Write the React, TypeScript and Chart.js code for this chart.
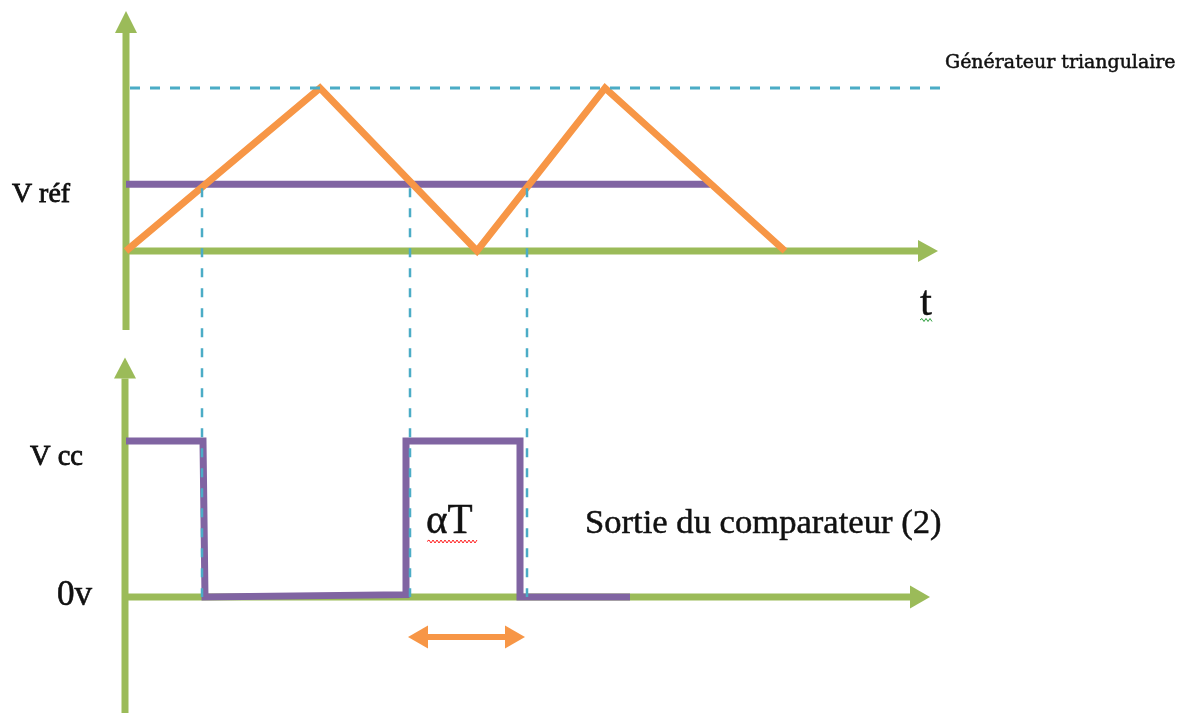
import React, { useEffect, useRef } from "react";
import { Chart, registerables } from "chart.js";

Chart.register(...registerables);

// ---- Data (time in arbitrary units t, top panel voltage normalised to triangle peak = 1,
//      bottom panel output normalised to Vcc = 1) ----
const triangleT = [0, 19.4, 35.1, 47.9, 65.9];
const triangleV = [0, 1, 0, 1, 0];

const vrefLevel = 0.41;
const vrefT = [0, 58.4];

const peakLevel = 1;
const peakLineT = [0.4, 81.4];

const crossingT = [7.6, 28.4, 40.1];

const squareT = [0, 7.7, 7.9, 28.0, 28.0, 39.4, 39.4, 50.4];
const squareV = [1, 1, 0, 0.015, 1, 1, 0, 0];

// axes extents (arrow heads are added beyond the last point)
const topAxisVT = [0, 0];
const topAxisVV = [-0.485, 1.337];
const topAxisHT = [0, 79.2];
const topAxisHV = [0, 0];
const botAxisVT = [-0.1, -0.1];
const botAxisVV = [-0.76, 1.4];
const botAxisHT = [0, 78.4];
const botAxisHV = [0, 0];

// duty-cycle double arrow (alpha T)
const dutyT = [30.2, 37.9];
const dutyV = [-0.256, -0.256];

// scale ranges
const tRange = [-12.6, 105.8];
const topRange = [-2.8344, 1.5399];
const botRange = [-0.7436, 3.8269];

const GREEN = "#9BBB59";
const ORANGE = "#F79646";
const PURPLE = "#8064A2";
const CYAN = "#4BACC6";

const labels = [
  { text: "Générateur triangulaire", x: 946, y: 68, w: 229, font: "'DejaVu Serif'", stroke: 0.5 },
  { text: "V réf", x: 12, y: 202, w: 58, font: "'Liberation Serif'", stroke: 0.8 },
  { text: "t", x: 920, y: 315, w: 12, font: "'Liberation Serif'", stroke: 0.4 },
  { text: "V cc", x: 30, y: 465, w: 52, font: "'Liberation Serif'", stroke: 0.8 },
  { text: "0v", x: 58, y: 605, w: 34, font: "'Liberation Serif'", stroke: 0.6 },
  { text: "αT", x: 427, y: 533, w: 45, font: "'Liberation Serif'", stroke: 0.5 },
  { text: "Sortie du comparateur (2)", x: 587, y: 533, w: 353, font: "'Liberation Serif'", stroke: 0.5 },
];

const squiggles = [
  { x0: 427, x1: 478, y: 541.5, color: "#FF2020" },
  { x0: 920, x1: 932, y: 320, color: "#2E9E3E" },
];

const pts = (xs: number[], ys: number[]) => xs.map((x, i) => ({ x, y: ys[i] }));

export default function App() {
  const ref = useRef<HTMLCanvasElement>(null);

  useEffect(() => {
    const canvas = ref.current;
    if (!canvas) return;

    const line = (
      label: string,
      data: { x: number; y: number }[],
      color: string,
      width: number,
      yAxisID: string,
      order: number,
      extra: any = {}
    ) => ({
      type: "scatter" as const,
      label,
      data,
      showLine: true,
      borderColor: color,
      backgroundColor: color,
      borderWidth: width,
      pointRadius: 0,
      pointHoverRadius: 0,
      tension: 0,
      fill: false,
      yAxisID,
      order,
      borderCapStyle: "butt",
      borderJoinStyle: "miter",
      ...extra,
    });

    const arrowPlugin = {
      id: "arrowHeads",
      afterDatasetsDraw(chart: any) {
        const ctx = chart.ctx;
        chart.data.datasets.forEach((ds: any, i: number) => {
          if (!ds.arrow) return;
          const meta = chart.getDatasetMeta(i);
          const p = meta.data;
          const n = p.length;
          const { L, W, ends } = ds.arrow;
          const head = (a: any, b: any) => {
            const dx = b.x - a.x;
            const dy = b.y - a.y;
            const len = Math.hypot(dx, dy) || 1;
            const ux = dx / len;
            const uy = dy / len;
            ctx.save();
            ctx.fillStyle = ds.borderColor;
            ctx.beginPath();
            ctx.moveTo(b.x + ux * L, b.y + uy * L);
            ctx.lineTo(b.x - uy * W, b.y + ux * W);
            ctx.lineTo(b.x + uy * W, b.y - ux * W);
            ctx.closePath();
            ctx.fill();
            ctx.restore();
          };
          if (ends.includes("end")) head(p[n - 2], p[n - 1]);
          if (ends.includes("start")) head(p[1], p[0]);
        });

        // dashed projections from the Vref crossings down to the 0v axis
        const xs = chart.scales.x;
        const ys = chart.scales.y;
        const y2 = chart.scales.y2;
        ctx.save();
        ctx.strokeStyle = CYAN;
        ctx.lineWidth = 2.5;
        ctx.setLineDash([9, 11]);
        crossingT.forEach((t) => {
          const x = xs.getPixelForValue(t);
          ctx.beginPath();
          ctx.moveTo(x, ys.getPixelForValue(vrefLevel) + 4);
          ctx.lineTo(x, y2.getPixelForValue(0));
          ctx.stroke();
        });
        ctx.restore();
      },
      afterDraw(chart: any) {
        const ctx = chart.ctx;
        ctx.save();
        ctx.fillStyle = "#111";
        ctx.strokeStyle = "#111";
        ctx.textAlign = "left";
        ctx.textBaseline = "alphabetic";
        labels.forEach((l) => {
          ctx.font = `100px ${l.font}`;
          const m = ctx.measureText(l.text);
          const ink = m.actualBoundingBoxLeft + m.actualBoundingBoxRight;
          const size = (100 * l.w) / ink;
          ctx.font = `${size}px ${l.font}`;
          const m2 = ctx.measureText(l.text);
          const x = l.x + m2.actualBoundingBoxLeft;
          ctx.fillText(l.text, x, l.y);
          ctx.lineWidth = l.stroke;
          ctx.strokeText(l.text, x, l.y);
        });
        squiggles.forEach((s) => {
          ctx.strokeStyle = s.color;
          ctx.lineWidth = 1;
          ctx.beginPath();
          let up = true;
          ctx.moveTo(s.x0, s.y);
          for (let x = s.x0 + 2; x <= s.x1; x += 2) {
            ctx.lineTo(x, s.y + (up ? -1.5 : 1.5));
            up = !up;
          }
          ctx.stroke();
        });
        ctx.restore();
      },
    };

    const chart = new Chart(canvas, {
      type: "scatter",
      data: {
        datasets: [
          line("Crête", pts(peakLineT, [peakLevel, peakLevel]), CYAN, 3, "y", 0, {
            borderDash: [10, 10],
          }),
          line("Triangle", pts(triangleT, triangleV), ORANGE, 7, "y", 1),
          line("Vref", pts(vrefT, [vrefLevel, vrefLevel]), PURPLE, 7, "y", 2),
          line("Sortie", pts(squareT, squareV), PURPLE, 7, "y2", 2),
          line("αT", pts(dutyT, dutyV), ORANGE, 6, "y2", 1, {
            arrow: { L: 20, W: 11.5, ends: ["start", "end"] },
          }),
          line("axe1", pts(topAxisVT, topAxisVV), GREEN, 7, "y", 3, {
            arrow: { L: 22, W: 11, ends: ["end"] },
          }),
          line("axe2", pts(topAxisHT, topAxisHV), GREEN, 7, "y", 3, {
            arrow: { L: 20, W: 11, ends: ["end"] },
          }),
          line("axe3", pts(botAxisVT, botAxisVV), GREEN, 7, "y2", 3, {
            arrow: { L: 21, W: 11, ends: ["end"] },
          }),
          line("axe4", pts(botAxisHT, botAxisHV), GREEN, 7, "y2", 3, {
            arrow: { L: 20, W: 11.5, ends: ["end"] },
          }),
        ] as any,
      },
      options: {
        animation: false,
        responsive: true,
        maintainAspectRatio: false,
        layout: { padding: 0 },
        events: [],
        plugins: {
          legend: { display: false },
          tooltip: { enabled: false },
          title: { display: false },
        },
        scales: {
          x: { type: "linear", display: false, min: tRange[0], max: tRange[1], bounds: "data" },
          y: { type: "linear", display: false, min: topRange[0], max: topRange[1], bounds: "data" },
          y2: { type: "linear", display: false, min: botRange[0], max: botRange[1], bounds: "data" },
        },
      } as any,
      plugins: [arrowPlugin],
    });

    return () => chart.destroy();
  }, []);

  return (
    <div style={{ position: "absolute", left: 0, top: 0, width: 1184, height: 713, background: "#fff" }}>
      <canvas ref={ref} />
    </div>
  );
}
